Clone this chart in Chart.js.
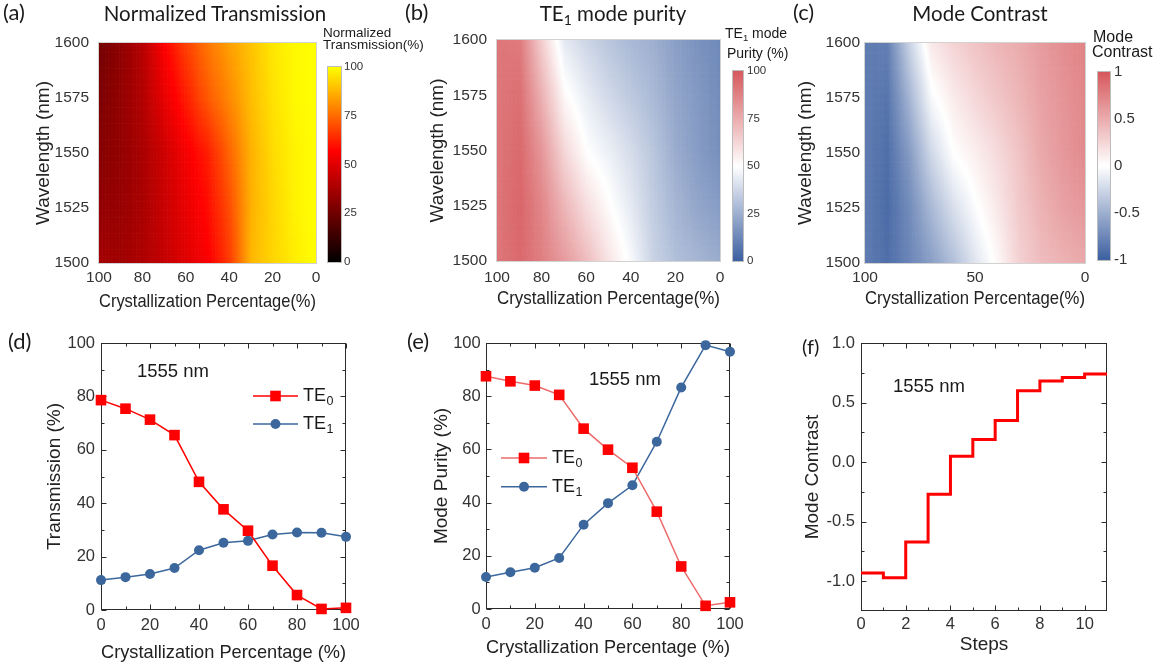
<!DOCTYPE html>
<html>
<head>
<meta charset="utf-8">
<title>Phase-change mode converter: transmission, purity and contrast</title>
<script src="https://cdn.jsdelivr.net/npm/chart.js@4.4.1/dist/chart.umd.min.js"></script>
<style>
  html, body { margin: 0; padding: 0; background: #fff; }
  #fig { position: relative; width: 1159px; height: 668px; overflow: hidden; background: #fff; }
  #fig canvas { position: absolute; }
  .t { position: absolute; white-space: nowrap; line-height: 1; color: #1a1a1a;
       font-family: "Liberation Sans", Arial, Helvetica, sans-serif; }
  .serifless { font-family: Lato, "Open Sans", sans-serif; }
  .panel { font-size: 22px; }
  .ttl { font-size: 20.5px; width: 300px; text-align: center; }
  .note { font-size: 18.5px; }
  sub { font-size: 0.68em; vertical-align: -0.32em; line-height: 0; }
</style>
</head>
<body>
<div id="fig">
  <canvas id="mapT" width="340" height="320" style="left:0;top:0"></canvas>
  <canvas id="barT" width="72" height="215" style="left:318px;top:57px"></canvas>
  <canvas id="mapP" width="350" height="320" style="left:390px;top:0"></canvas>
  <canvas id="barP" width="70" height="212" style="left:723px;top:60px"></canvas>
  <canvas id="mapC" width="330" height="320" style="left:770px;top:0"></canvas>
  <canvas id="barC" width="71" height="214" style="left:1088px;top:59px"></canvas>
  <canvas id="lineT" width="390" height="348" style="left:0;top:320px"></canvas>
  <canvas id="lineP" width="390" height="348" style="left:390px;top:320px"></canvas>
  <canvas id="stepC" width="389" height="348" style="left:770px;top:320px"></canvas>

  <div class="t serifless panel" style="left:3px;top:1px">(a)</div>
  <div class="t serifless ttl" style="left:65px;top:3px">Normalized Transmission</div>
  <div class="t" style="left:323px;top:26px;font-size:13.5px">Normalized</div>
  <div class="t" style="left:323px;top:38px;font-size:13.5px">Transmission(%)</div>

  <div class="t serifless panel" style="left:405px;top:1px">(b)</div>
  <div class="t serifless ttl" style="left:463px;top:3px">TE<sub>1</sub> mode purity</div>
  <div class="t" style="left:725px;top:26px;font-size:14px">TE<sub>1</sub> mode</div>
  <div class="t" style="left:727px;top:46px;font-size:14px">Purity (%)</div>

  <div class="t serifless panel" style="left:793px;top:1px">(c)</div>
  <div class="t serifless ttl" style="left:830px;top:3px">Mode Contrast</div>
  <div class="t" style="left:1093px;top:29px;font-size:16px">Mode</div>
  <div class="t" style="left:1092px;top:44px;font-size:16px">Contrast</div>

  <div class="t serifless panel" style="left:8px;top:330px">(d)</div>
  <div class="t note" style="left:137px;top:362px">1555 nm</div>
  <div class="t serifless panel" style="left:407px;top:330px">(e)</div>
  <div class="t note" style="left:589px;top:370px">1555 nm</div>
  <div class="t serifless panel" style="left:802px;top:336px;font-size:20px">(f)</div>
  <div class="t note" style="left:893px;top:377px">1555 nm</div>
</div>

<script>
// ---------- shared axes ----------
const crystPct = [0, 10, 20, 30, 40, 50, 60, 70, 80, 90, 100];
const wavelengthNm = [1500, 1525, 1550, 1575, 1600];

// ---------- (a) normalized transmission (%), one row per wavelength ----------
const normT1500 = [100, 97, 93, 88, 67, 56, 50, 44, 39, 36, 37];
const normT1525 = [100, 98, 93, 87, 70, 59, 52, 45, 38, 34, 33];
const normT1550 = [100, 98, 94, 87, 74, 62, 55, 46, 38, 33, 30];
const normT1575 = [100, 99, 95, 89, 80, 72, 62, 52, 40, 33, 28];
const normT1600 = [100, 99, 96, 90, 84, 77, 68, 57, 41, 32, 26];

// ---------- (b) TE1 mode purity (%) ----------
const purity1500 = [24, 27, 30, 36, 48, 58, 70, 80, 88, 95, 91];
const purity1525 = [19, 22, 27, 34, 43, 51, 60, 72, 86, 96, 91];
const purity1550 = [15, 19, 24, 32, 39, 45, 50, 62, 81, 95, 91];
const purity1575 = [14, 18, 22, 28, 33, 38, 44, 52, 73, 93, 91];
const purity1600 = [13, 16, 20, 25, 28, 32, 37, 43, 64, 90, 91];

// ---------- (c) mode contrast ----------
const contrast1500 = [0.52, 0.46, 0.40, 0.28, 0.04, -0.16, -0.40, -0.60, -0.76, -0.90, -0.82];
const contrast1525 = [0.62, 0.56, 0.46, 0.32, 0.14, -0.02, -0.20, -0.44, -0.72, -0.92, -0.82];
const contrast1550 = [0.70, 0.62, 0.52, 0.36, 0.22, 0.10, 0.00, -0.24, -0.62, -0.90, -0.82];
const contrast1575 = [0.72, 0.64, 0.56, 0.44, 0.34, 0.24, 0.12, -0.04, -0.46, -0.86, -0.82];
const contrast1600 = [0.74, 0.68, 0.60, 0.50, 0.44, 0.36, 0.26, 0.14, -0.28, -0.80, -0.82];

// ---------- (d) transmission at 1555 nm (%) ----------
const transTE0 = [78.6, 75.4, 71.3, 65.5, 48.0, 37.7, 29.7, 16.6, 5.6, 0.4, 0.8];
const transTE1 = [11.2, 12.3, 13.5, 15.7, 22.4, 25.2, 25.9, 28.3, 29.0, 28.9, 27.4];

// ---------- (e) mode purity at 1555 nm (%) ----------
const purityTE0 = [87.5, 85.6, 84.0, 80.5, 67.8, 59.9, 53.1, 36.6, 16.0, 1.2, 2.5];
const purityTE1 = [12.0, 13.8, 15.5, 19.2, 31.7, 39.8, 46.5, 62.9, 83.3, 99.2, 96.7];

// ---------- (f) mode contrast per switching step at 1555 nm ----------
const stepIndex = [0, 1, 2, 3, 4, 5, 6, 7, 8, 9, 10, 11];
const stepContrast = [-0.93, -0.97, -0.67, -0.27, 0.05, 0.19, 0.35, 0.60, 0.68, 0.71, 0.74, 0.74];

// ---------- tick labels ----------
const wlTicks = [1500, 1525, 1550, 1575, 1600];
const pctTicks20 = [0, 20, 40, 60, 80, 100];
const pctTicks50 = [0, 50, 100];
const barPctTicks = [0, 25, 50, 75, 100];
const barContrastTicks = [-1, -0.5, 0, 0.5, 1];
const stepTicks = [0, 2, 4, 6, 8, 10];
const contrastTicks = [-1, -0.5, 0, 0.5, 1];

// ---------- styling helpers ----------
Chart.defaults.font.family = '"Liberation Sans", Arial, Helvetica, sans-serif';
Chart.defaults.color = '#333';
Chart.defaults.animation = false;

const BLUE = [60, 95, 160];
const RED = [214, 88, 92];
function rgb(r, g, b) { return 'rgb(' + Math.round(r) + ',' + Math.round(g) + ',' + Math.round(b) + ')'; }
function hotColor(v) {
  const t = Math.max(0, Math.min(100, v));
  const r = Math.min(1, t / 57);
  const g = Math.max(0, (t - 57) / 43);
  return rgb(255 * r, 255 * g, 0);
}
function divergingColor(s) {            // s in [-1, 1]
  const c = s < 0 ? BLUE : RED;
  const a = Math.min(1, Math.abs(s));
  return rgb(255 + (c[0] - 255) * a, 255 + (c[1] - 255) * a, 255 + (c[2] - 255) * a);
}
const purityColor = v => divergingColor((v - 50) / 50);
const plainLabel = v => String(v);

const setTicks = values => scale => { scale.ticks = values.map(v => ({ value: v })); };
const fixWidth = w => scale => { scale.width = w; };
const fixHeight = h => scale => { scale.height = h; };

// Smooth shaded map drawn cell by cell on the chart's own x/y scales.
function heatmapLayer(cols, rows, grid, colorOf) {
  return {
    id: 'heatmapLayer',
    beforeDatasetsDraw(chart) {
      const { ctx, chartArea: ca, scales: { x, y } } = chart;
      const NX = 14, NY = 24;
      ctx.save();
      ctx.beginPath();
      ctx.rect(ca.left, ca.top, ca.width, ca.height);
      ctx.clip();
      for (let j = 0; j < rows.length - 1; j++) {
        for (let i = 0; i < cols.length - 1; i++) {
          const v00 = grid[j][i], v10 = grid[j][i + 1], v01 = grid[j + 1][i], v11 = grid[j + 1][i + 1];
          for (let a = 0; a < NX; a++) {
            const xa = x.getPixelForValue(cols[i] + (cols[i + 1] - cols[i]) * a / NX);
            const xb = x.getPixelForValue(cols[i] + (cols[i + 1] - cols[i]) * (a + 1) / NX);
            const u = (a + 0.5) / NX;
            for (let b = 0; b < NY; b++) {
              const ya = y.getPixelForValue(rows[j] + (rows[j + 1] - rows[j]) * b / NY);
              const yb = y.getPixelForValue(rows[j] + (rows[j + 1] - rows[j]) * (b + 1) / NY);
              const w = (b + 0.5) / NY;
              const v = (v00 * (1 - u) + v10 * u) * (1 - w) + (v01 * (1 - u) + v11 * u) * w;
              ctx.fillStyle = colorOf(v);
              ctx.fillRect(Math.min(xa, xb), Math.min(ya, yb), Math.abs(xb - xa) + 0.6, Math.abs(yb - ya) + 0.6);
            }
          }
        }
      }
      ctx.restore();
      ctx.save();
      ctx.strokeStyle = '#d2d2d2';
      ctx.lineWidth = 1;
      ctx.strokeRect(Math.round(ca.left) - 0.5, Math.round(ca.top) - 0.5, Math.round(ca.width) + 1, Math.round(ca.height) + 1);
      ctx.restore();
    }
  };
}

// Colour bar filled row by row from its value axis.
function colorbarLayer(colorOf) {
  return {
    id: 'colorbarLayer',
    beforeDatasetsDraw(chart) {
      const { ctx, chartArea: ca, scales: { y } } = chart;
      ctx.save();
      for (let py = Math.floor(ca.top); py < Math.ceil(ca.bottom); py++) {
        ctx.fillStyle = colorOf(y.getValueForPixel(py + 0.5));
        ctx.fillRect(ca.left, py, ca.width, 1);
      }
      ctx.strokeStyle = '#bdbdbd';
      ctx.lineWidth = 1;
      ctx.strokeRect(Math.round(ca.left) - 0.5, Math.round(ca.top) - 0.5, Math.round(ca.width) + 1, Math.round(ca.height) + 1);
      ctx.restore();
    }
  };
}

// Closed frame with inward major/minor ticks on all four sides.
const frameTicks = {
  id: 'frameTicks',
  beforeDatasetsDraw(chart) {
    const { ctx, chartArea: ca, scales: { x, y } } = chart;
    const L = Math.round(ca.left) + 0.5, R = Math.round(ca.right) - 0.5;
    const T = Math.round(ca.top) + 0.5, B = Math.round(ca.bottom) - 0.5;
    const mids = a => a.slice(0, -1).map((v, i) => (v + a[i + 1]) / 2);
    const xs = x.ticks.map(t => t.value), ys = y.ticks.map(t => t.value);
    ctx.save();
    ctx.strokeStyle = '#2b2b2b';
    ctx.lineWidth = 1;
    ctx.strokeRect(L, T, R - L, B - T);
    ctx.beginPath();
    const xMarks = (vals, len) => vals.forEach(v => {
      const p = Math.round(x.getPixelForValue(v)) + 0.5;
      ctx.moveTo(p, B); ctx.lineTo(p, B - len);
      ctx.moveTo(p, T); ctx.lineTo(p, T + len);
    });
    const yMarks = (vals, len) => vals.forEach(v => {
      const p = Math.round(y.getPixelForValue(v)) + 0.5;
      ctx.moveTo(L, p); ctx.lineTo(L + len, p);
      ctx.moveTo(R, p); ctx.lineTo(R - len, p);
    });
    xMarks(xs, 5); xMarks(mids(xs), 3);
    yMarks(ys, 5); yMarks(mids(ys), 3);
    ctx.stroke();
    ctx.restore();
  }
};

// Legend drawn inside the plot: sample line, marker and a subscripted label.
function inlineLegend(x0, y0, dy, len) {
  return {
    id: 'inlineLegend',
    afterDatasetsDraw(chart) {
      const ctx = chart.ctx;
      ctx.save();
      chart.data.datasets.forEach((ds, i) => {
        const y = y0 + i * dy;
        ctx.strokeStyle = ds.borderColor;
        ctx.lineWidth = ds.borderWidth;
        ctx.beginPath();
        ctx.moveTo(x0, y); ctx.lineTo(x0 + len, y);
        ctx.stroke();
        ctx.fillStyle = ds.pointBackgroundColor;
        ctx.strokeStyle = ds.pointBorderColor;
        Chart.helpers.drawPoint(ctx, { pointStyle: ds.pointStyle, radius: ds.pointRadius, rotation: 0, borderWidth: 0 }, x0 + len / 2, y);
        const base = ds.label.slice(0, -1), sub = ds.label.slice(-1);
        ctx.fillStyle = '#1a1a1a';
        ctx.textBaseline = 'middle';
        ctx.textAlign = 'left';
        ctx.font = '18px "Liberation Sans", Arial, sans-serif';
        const tx = x0 + len + 5;
        ctx.fillText(base, tx, y);
        const w = ctx.measureText(base).width;
        ctx.font = '12.5px "Liberation Sans", Arial, sans-serif';
        ctx.fillText(sub, tx + w + 0.5, y + 6);
      });
      ctx.restore();
    }
  };
}

// ---------- heat maps ----------
function makeMap(id, grid, colorOf, xTicks, geo) {
  return new Chart(document.getElementById(id), {
    type: 'scatter',
    data: { datasets: [] },
    options: {
      responsive: false,
      devicePixelRatio: 1,
      layout: { padding: { left: 0, top: geo.top, right: geo.right, bottom: 0 } },
      plugins: { legend: { display: false }, tooltip: { enabled: false } },
      scales: {
        x: {
          type: 'linear', min: 0, max: 100, reverse: true,
          afterBuildTicks: setTicks(xTicks), afterFit: fixHeight(geo.xh),
          grid: { display: false, drawTicks: false }, border: { display: false },
          ticks: { font: { size: 15.5 }, padding: geo.xpad, maxRotation: 0, autoSkip: false, color: '#333', callback: plainLabel },
          title: { display: true, text: 'Crystallization Percentage(%)', font: { size: 19 }, color: '#222', padding: { top: 0, bottom: geo.xtitle } }
        },
        y: {
          type: 'linear', min: 1500, max: 1600,
          afterBuildTicks: setTicks(wlTicks), afterFit: fixWidth(geo.yw),
          grid: { display: false, drawTicks: false }, border: { display: false },
          ticks: { font: { size: 15.5 }, padding: geo.ypad, autoSkip: false, color: '#333', callback: plainLabel },
          title: { display: true, text: 'Wavelength (nm)', font: { size: 19 }, color: '#222', padding: { top: geo.ytitle, bottom: 0 } }
        }
      }
    },
    plugins: [heatmapLayer(crystPct, wavelengthNm, grid, colorOf)]
  });
}

function makeBar(id, colorOf, min, max, ticks, size, geo) {
  return new Chart(document.getElementById(id), {
    type: 'scatter',
    data: { datasets: [] },
    options: {
      responsive: false,
      devicePixelRatio: 1,
      layout: { padding: { left: geo.left, top: geo.top, right: 0, bottom: geo.bottom } },
      plugins: { legend: { display: false }, tooltip: { enabled: false } },
      scales: {
        x: { display: false, min: 0, max: 1 },
        y: {
          position: 'right', min: min, max: max,
          afterBuildTicks: setTicks(ticks), afterFit: fixWidth(geo.axis),
          grid: { display: false, drawTicks: false }, border: { display: false },
          ticks: { font: { size: size }, padding: geo.pad, autoSkip: false, color: '#333', callback: plainLabel }
        }
      }
    },
    plugins: [colorbarLayer(colorOf)]
  });
}

makeMap('mapT', [normT1500, normT1525, normT1550, normT1575, normT1600], hotColor, pctTicks20,
  { top: 43, right: 24, xh: 57, yw: 99, xpad: 5, ypad: 10, xtitle: 6.6, ytitle: 32 });
makeBar('barT', hotColor, 0, 100, barPctTicks, 11.5,
  { left: 10, top: 10, bottom: 10, axis: 49, pad: 3 });

makeMap('mapP', [purity1500, purity1525, purity1550, purity1575, purity1600], purityColor, pctTicks20,
  { top: 40, right: 20, xh: 59, yw: 107, xpad: 7, ypad: 10, xtitle: 9.6, ytitle: 36 });
makeBar('barP', purityColor, 0, 100, barPctTicks, 11.5,
  { left: 10, top: 10, bottom: 10, axis: 50, pad: 4 });

makeMap('mapC', [contrast1500, contrast1525, contrast1550, contrast1575, contrast1600], divergingColor, pctTicks50,
  { top: 43, right: 15, xh: 57, yw: 95, xpad: 5, ypad: 5, xtitle: 9.6, ytitle: 24.3 });
makeBar('barC', divergingColor, -1, 1, barContrastTicks, 15,
  { left: 10, top: 10, bottom: 10, axis: 49, pad: 4 });

// ---------- line panels ----------
const RED_LINE = '#ff0000';
const BLUE_LINE = '#3b679c';

function pts(xs, ys) { return xs.map((x, i) => ({ x: x, y: ys[i] })); }

function lineAxes(geo, xTitle, yTitle, xMin, xMax, xTicks, yMin, yMax, yTicks, yFmt) {
  return {
    x: {
      type: 'linear', min: xMin, max: xMax,
      afterBuildTicks: setTicks(xTicks), afterFit: fixHeight(geo.xh),
      grid: { display: false, drawTicks: false }, border: { display: false },
      ticks: { font: { size: 16.5 }, padding: geo.xpad, maxRotation: 0, autoSkip: false, color: '#333', callback: plainLabel },
      title: { display: true, text: xTitle, font: { size: 19 }, color: '#222', padding: { top: 0, bottom: geo.xtitle } }
    },
    y: {
      type: 'linear', min: yMin, max: yMax,
      afterBuildTicks: setTicks(yTicks), afterFit: fixWidth(geo.yw),
      grid: { display: false, drawTicks: false }, border: { display: false },
      ticks: { font: { size: 16.5 }, padding: geo.ypad, autoSkip: false, color: '#333', callback: yFmt },
      title: { display: true, text: yTitle, font: { size: 19 }, color: '#222', padding: { top: geo.ytitle, bottom: 0 } }
    }
  };
}

function seriesSet(te0, te1, te0Line) {
  return [
    { label: 'TE0', data: pts(crystPct, te0), borderColor: te0Line, borderWidth: 1.5,
      pointStyle: 'rect', pointRadius: 7.5, pointBackgroundColor: RED_LINE, pointBorderColor: RED_LINE,
      pointBorderWidth: 0, tension: 0, clip: false },
    { label: 'TE1', data: pts(crystPct, te1), borderColor: BLUE_LINE, borderWidth: 1.5,
      pointStyle: 'circle', pointRadius: 5, pointBackgroundColor: BLUE_LINE, pointBorderColor: BLUE_LINE,
      pointBorderWidth: 0, tension: 0, clip: false }
  ];
}

const baseOpts = {
  responsive: false,
  devicePixelRatio: 1,
  plugins: { legend: { display: false }, tooltip: { enabled: false } }
};

new Chart(document.getElementById('lineT'), {
  type: 'line',
  data: { datasets: seriesSet(transTE0, transTE1, RED_LINE) },
  options: Object.assign({}, baseOpts, {
    layout: { padding: { left: 0, top: 23, right: 44, bottom: 0 } },
    scales: lineAxes({ xh: 58, yw: 101, xpad: 6, ypad: 6, xtitle: 3.6, ytitle: 43.6 },
      'Crystallization Percentage (%)', 'Transmission (%)', 0, 100, pctTicks20, 0, 100, pctTicks20, plainLabel)
  }),
  plugins: [frameTicks, inlineLegend(253, 76, 28, 45)]
});

new Chart(document.getElementById('lineP'), {
  type: 'line',
  data: { datasets: seriesSet(purityTE0, purityTE1, '#ee6a6a') },
  options: Object.assign({}, baseOpts, {
    layout: { padding: { left: 0, top: 23, right: 50, bottom: 0 } },
    scales: lineAxes({ xh: 59, yw: 96, xpad: 5.4, ypad: 5.3, xtitle: 8.6, ytitle: 40.3 },
      'Crystallization Percentage (%)', 'Mode Purity (%)', 0, 100, pctTicks20, 0, 100, pctTicks20, plainLabel)
  }),
  plugins: [frameTicks, inlineLegend(111, 138, 28.7, 46)]
});

new Chart(document.getElementById('stepC'), {
  type: 'line',
  data: {
    datasets: [{
      label: 'Mode Contrast', data: pts(stepIndex, stepContrast),
      borderColor: RED_LINE, borderWidth: 3, stepped: 'before', pointRadius: 0, clip: false
    }]
  },
  options: Object.assign({}, baseOpts, {
    layout: { padding: { left: 0, top: 23, right: 52, bottom: 0 } },
    scales: lineAxes({ xh: 57, yw: 91, xpad: 3.4, ypad: 6, xtitle: 11.6, ytitle: 31 },
      'Steps', 'Mode Contrast', 0, 11, stepTicks, -1.25, 1, contrastTicks, v => v.toFixed(1))
  }),
  plugins: [frameTicks]
});
</script>
</body>
</html>
